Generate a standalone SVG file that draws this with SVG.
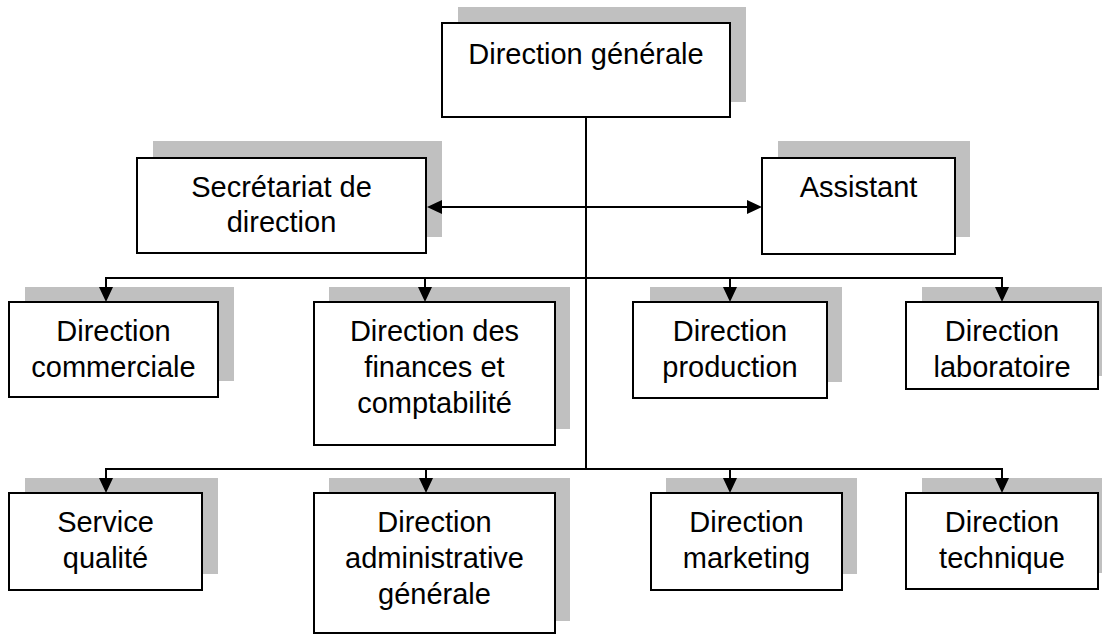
<svg xmlns="http://www.w3.org/2000/svg" width="1102" height="635" viewBox="0 0 1102 635">
  <style>
    .shadow { fill: #c0c0c0; stroke: none; }
    .box { fill: #ffffff; stroke: #000000; stroke-width: 2; }
    .label { font-family: "Liberation Sans", Arial, sans-serif; font-size: 29px; fill: #000000; text-anchor: middle; }
    .link { fill: none; stroke: #000000; stroke-width: 2; }
    .head { fill: #000000; stroke: none; }
  </style>
  <defs>
    <!-- arrowhead pointing down, tip at origin -->
    <path id="head-down" class="head" d="M-7,-15 L7,-15 L0,0 Z"/>
    <!-- arrowhead pointing right, tip at origin -->
    <path id="head-right" class="head" d="M-15,-7 L-15,7 L0,0 Z"/>
    <!-- arrowhead pointing left, tip at origin -->
    <path id="head-left" class="head" d="M15,-7 L15,7 L0,0 Z"/>
  </defs>

  <rect x="0" y="0" width="1102" height="635" fill="#ffffff"/>

  <g id="direction-generale">
    <rect class="shadow" x="458" y="7" width="288" height="95"/>
    <rect class="box" x="442" y="23" width="288" height="94"/>
    <text class="label" x="586" y="64">Direction générale</text>
  </g>

  <g id="secretariat">
    <rect class="shadow" x="153" y="141" width="289" height="96"/>
    <rect class="box" x="137" y="158" width="289" height="95"/>
    <text class="label" x="281.5" y="197">Secrétariat de</text>
    <text class="label" x="281.5" y="232">direction</text>
  </g>

  <g id="assistant">
    <rect class="shadow" x="778" y="141" width="192" height="96"/>
    <rect class="box" x="762" y="158" width="193" height="96"/>
    <text class="label" x="858.5" y="197">Assistant</text>
  </g>

  <g id="direction-commerciale">
    <rect class="shadow" x="25" y="287" width="209" height="94"/>
    <rect class="box" x="9" y="302" width="209" height="95"/>
    <text class="label" x="113.5" y="341">Direction</text>
    <text class="label" x="113.5" y="377">commerciale</text>
  </g>

  <g id="direction-finances">
    <rect class="shadow" x="329" y="287" width="241" height="142"/>
    <rect class="box" x="314" y="302" width="241" height="143"/>
    <text class="label" x="434.5" y="341">Direction des</text>
    <text class="label" x="434.5" y="377">finances et</text>
    <text class="label" x="434.5" y="413">comptabilité</text>
  </g>

  <g id="direction-production">
    <rect class="shadow" x="650" y="287" width="192" height="95"/>
    <rect class="box" x="633" y="302" width="194" height="96"/>
    <text class="label" x="730" y="341">Direction</text>
    <text class="label" x="730" y="377">production</text>
  </g>

  <g id="direction-laboratoire">
    <rect class="shadow" x="922" y="287" width="192" height="89"/>
    <rect class="box" x="906" y="302" width="192" height="87"/>
    <text class="label" x="1002" y="341">Direction</text>
    <text class="label" x="1002" y="377">laboratoire</text>
  </g>

  <g id="service-qualite">
    <rect class="shadow" x="25" y="478" width="193" height="96"/>
    <rect class="box" x="9" y="493" width="193" height="97"/>
    <text class="label" x="105.5" y="532">Service</text>
    <text class="label" x="105.5" y="568">qualité</text>
  </g>

  <g id="direction-administrative">
    <rect class="shadow" x="329" y="478" width="241" height="143"/>
    <rect class="box" x="314" y="493" width="241" height="140"/>
    <text class="label" x="434.5" y="532">Direction</text>
    <text class="label" x="434.5" y="568">administrative</text>
    <text class="label" x="434.5" y="604">générale</text>
  </g>

  <g id="direction-marketing">
    <rect class="shadow" x="666" y="478" width="191" height="96"/>
    <rect class="box" x="651" y="493" width="191" height="97"/>
    <text class="label" x="746.5" y="532">Direction</text>
    <text class="label" x="746.5" y="568">marketing</text>
  </g>

  <g id="direction-technique">
    <rect class="shadow" x="922" y="478" width="192" height="95"/>
    <rect class="box" x="906" y="493" width="192" height="96"/>
    <text class="label" x="1002" y="532">Direction</text>
    <text class="label" x="1002" y="568">technique</text>
  </g>

  <!-- connectors, drawn last so heads sit over the shadows -->
  <g id="connectors">
    <line class="link" x1="586" y1="117" x2="586" y2="469"/>
    <line class="link" x1="430" y1="207" x2="750" y2="207"/>
    <use href="#head-left" x="427" y="207"/>
    <use href="#head-right" x="762" y="207"/>
    <!-- first level bus -->
    <polyline class="link" points="106,292 106,278 1002,278 1002,292"/>
    <line class="link" x1="425" y1="278" x2="425" y2="292"/>
    <line class="link" x1="730" y1="278" x2="730" y2="292"/>
    <use href="#head-down" x="106" y="302"/>
    <use href="#head-down" x="425" y="302"/>
    <use href="#head-down" x="730" y="302"/>
    <use href="#head-down" x="1002" y="302"/>
    <!-- second level bus -->
    <polyline class="link" points="106,483 106,469 1002,469 1002,483"/>
    <line class="link" x1="426" y1="469" x2="426" y2="483"/>
    <line class="link" x1="730" y1="469" x2="730" y2="483"/>
    <use href="#head-down" x="106" y="493"/>
    <use href="#head-down" x="426" y="493"/>
    <use href="#head-down" x="730" y="493"/>
    <use href="#head-down" x="1002" y="493"/>
  </g>
</svg>
